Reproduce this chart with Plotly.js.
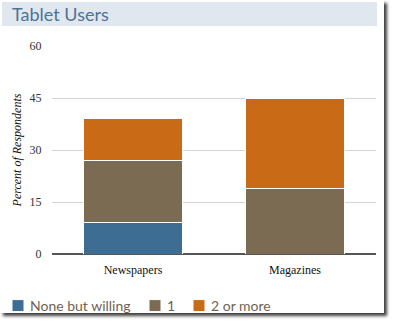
<!DOCTYPE html>
<html>
<head>
<meta charset="utf-8">
<script src="https://cdn.plot.ly/plotly-3.0.1.min.js"></script>
<style>
  html, body { margin: 0; padding: 0; background: #ffffff; }
  #card { position: absolute; left: 0; top: 0; width: 384px; height: 313px; background: #fff;
          box-shadow: 3px 3px 3px rgba(0,0,0,0.75); }
  #chart { width: 384px; height: 313px; }
</style>
</head>
<body>
<div id="card"><div id="chart"></div></div>
<script>
const categories = ["Newspapers", "Magazines"];
const seriesNames = ["None but willing", "1", "2 or more"];
const noneButWilling = [9, 0];
const one = [18, 19];
const twoOrMore = [12, 26];
const yTicks = [0, 15, 30, 45, 60];
const colors = ["#3d6d93", "#7c6b53", "#c96a17"];

const values = [noneButWilling, one, twoOrMore];
const traces = values.map((v, i) => ({
  type: "bar",
  name: seriesNames[i],
  x: categories,
  y: v,
  marker: { color: colors[i], line: { color: "#ffffff", width: 1 } },
  hoverinfo: "none"
}));

const W = 384, H = 313, L = 52, R = 8, T = 46, B = 59;
const pw = W - L - R, ph = H - T - B;
const px = v => (v - L) / pw;
const py = v => (H - B - v) / ph;
const legendItemOffsets = [0, 137, 181];

const layout = {
  width: W, height: H,
  margin: { l: L, r: R, t: T, b: B, autoexpand: false },
  paper_bgcolor: "rgba(0,0,0,0)",
  plot_bgcolor: "rgba(0,0,0,0)",
  barmode: "stack",
  bargap: 0.383,
  title: {
    text: "Tablet Users",
    xref: "container", yref: "container",
    x: 12 / W, xanchor: "left",
    y: 1 - 15 / H, yanchor: "middle",
    font: { family: "Lato, 'Open Sans', sans-serif", size: 18, color: "#4e7297" }
  },
  shapes: [{
    type: "rect", xref: "paper", yref: "paper", layer: "below",
    x0: px(2), x1: px(377), y0: py(2), y1: py(26),
    fillcolor: "#e1e7ef", line: { width: 0 }
  }],
  xaxis: {
    type: "category",
    automargin: false,
    showgrid: false,
    showline: false,
    zeroline: false,
    ticks: "outside", ticklen: 5, tickcolor: "rgba(0,0,0,0)",
    tickfont: { family: "'Liberation Serif', 'Times New Roman', serif", size: 12, color: "#111" },
    fixedrange: true
  },
  yaxis: {
    automargin: false,
    range: [0, 60],
    tickvals: yTicks,
    ticktext: yTicks.map(String),
    showgrid: true, gridcolor: "#d4d4d4", gridwidth: 1,
    zeroline: true, zerolinecolor: "#555555", zerolinewidth: 2,
    showline: false,
    ticks: "outside", ticklen: 7, tickcolor: "rgba(0,0,0,0)",
    tickfont: { family: "'Liberation Serif', 'Times New Roman', serif", size: 12, color: "#333" },
    title: {
      text: "<i>Percent of Respondents</i>",
      standoff: 5,
      font: { family: "'Liberation Serif', 'Times New Roman', serif", size: 12, color: "#111" }
    },
    fixedrange: true
  },
  showlegend: true,
  legend: {
    orientation: "h",
    x: px(-10), xanchor: "left",
    y: py(306), yanchor: "middle",
    traceorder: "normal",
    font: { family: "Lato, 'Open Sans', sans-serif", size: 14, color: "#6f6355" },
    bgcolor: "rgba(0,0,0,0)",
    borderwidth: 0
  },
  font: { family: "'Liberation Serif', serif" }
};

Plotly.newPlot("chart", traces, layout, { displayModeBar: false, staticPlot: true }).then(gd => {
  gd.querySelectorAll(".legend .legendpoints").forEach(g => g.setAttribute("transform", "translate(8,0)"));
  const items = gd.querySelectorAll(".legend .traces");
  const parse = t => {
    const m = /translate\(\s*([-\d.e]+)[ ,]+([-\d.e]+)/.exec(t || "");
    return m ? [parseFloat(m[1]), parseFloat(m[2])] : [0, 0];
  };
  if (items.length) {
    const [x0] = parse(items[0].getAttribute("transform"));
    items.forEach((it, i) => {
      const [, y] = parse(it.getAttribute("transform"));
      it.setAttribute("transform", "translate(" + (x0 + legendItemOffsets[i]) + "," + y + ")");
    });
  }
});
</script>
</body>
</html>
